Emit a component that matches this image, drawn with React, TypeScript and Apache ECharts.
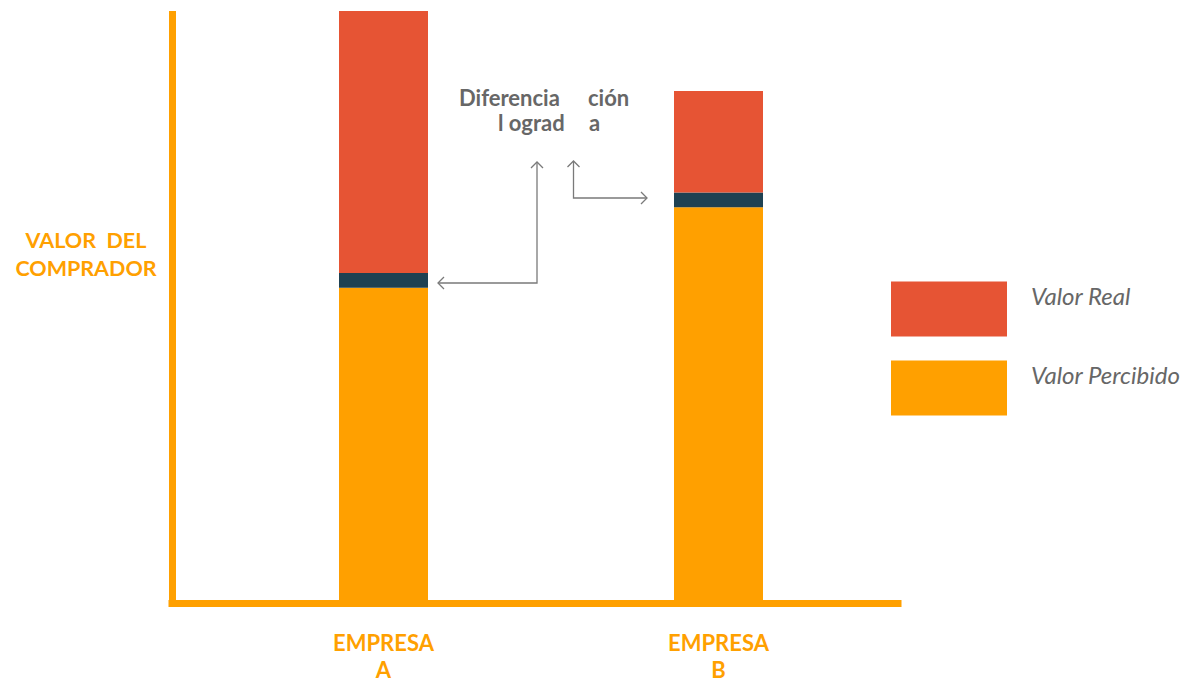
import React, { useEffect, useRef } from "react";
import * as echarts from "echarts";

const categories = ["EMPRESA\nA", "EMPRESA\nB"];
const valorPercibido = [53.0, 66.7];
const diferencia = [2.5, 2.5];
const valorReal = [44.5, 17.2];

const ORANGE = "#FFA000";
const RED = "#E65434";
const DARK = "#1E4152";
const GRAY = "#676767";
const ARROW = "#7a7a7a";

export default function App() {
  const ref = useRef<HTMLDivElement>(null);
  useEffect(() => {
    if (!ref.current) return;
    const chart = echarts.init(ref.current, null, { renderer: "svg" });
    const arrowStyle = { stroke: ARROW, lineWidth: 1.3, fill: "none" };
    const annot = (text: string, x: number, y: number) => ({
      type: "text",
      x,
      y,
      style: { text, fill: GRAY, font: "bold 22px Lato", textAlign: "left", textVerticalAlign: "middle" },
    });
    chart.setOption({
      animation: false,
      textStyle: { fontFamily: "Lato" },
      grid: [
        { left: 172, top: 11, width: 726, height: 592 },
        { left: 216, top: 11, width: 670, height: 592 },
      ],
      xAxis: [
        {
          gridIndex: 0,
          type: "value",
          min: 0,
          max: 1,
          z: 10,
          axisLine: { show: true, onZero: false, lineStyle: { color: ORANGE, width: 7, cap: "square" } },
          axisTick: { show: false },
          axisLabel: { show: false },
          splitLine: { show: false },
        },
        {
          gridIndex: 1,
          type: "category",
          data: categories,
          axisLine: { show: false },
          axisTick: { show: false },
          axisLabel: {
            color: ORANGE,
            fontFamily: "Lato",
            fontWeight: "bold",
            fontSize: 22,
            lineHeight: 27,
            margin: 29,
          },
        },
      ],
      yAxis: [
        {
          gridIndex: 0,
          type: "value",
          min: 0,
          max: 100,
          z: 10,
          axisLine: { show: true, lineStyle: { color: ORANGE, width: 7, cap: "butt" } },
          axisTick: { show: false },
          axisLabel: { show: false },
          splitLine: { show: false },
        },
        {
          gridIndex: 1,
          type: "value",
          min: 0,
          max: 100,
          axisLine: { show: false },
          axisTick: { show: false },
          axisLabel: { show: false },
          splitLine: { show: false },
        },
      ],
      legend: {
        orient: "vertical",
        left: 891,
        top: 281,
        padding: 0,
        itemWidth: 116,
        itemHeight: 55,
        itemGap: 23,
        icon: "rect",
        data: ["Valor Real", "Valor Percibido"],
        formatter: (name: string) => name + "\n ",
        textStyle: {
          color: GRAY,
          fontFamily: "Lato",
          fontStyle: "italic",
          fontSize: 24,
          lineHeight: 28,
          padding: [0, 0, 0, 19],
        },
      },
      series: [
        {
          name: "Valor Percibido",
          type: "bar",
          stack: "v",
          xAxisIndex: 1,
          yAxisIndex: 1,
          barWidth: 89,
          data: valorPercibido,
          itemStyle: { color: ORANGE },
        },
        {
          name: "Diferencia",
          type: "bar",
          stack: "v",
          xAxisIndex: 1,
          yAxisIndex: 1,
          barWidth: 89,
          data: diferencia,
          itemStyle: { color: DARK },
        },
        {
          name: "Valor Real",
          type: "bar",
          stack: "v",
          xAxisIndex: 1,
          yAxisIndex: 1,
          barWidth: 89,
          data: valorReal,
          itemStyle: { color: RED },
        },
      ],
      graphic: [
        {
          type: "text",
          x: 86,
          y: 254,
          style: {
            text: "VALOR  DEL\nCOMPRADOR",
            fill: ORANGE,
            font: "bold 21.5px Lato",
            lineHeight: 28,
            textAlign: "center",
            textVerticalAlign: "middle",
          },
        },
        annot("Diferencia", 459, 97),
        annot("ción", 588, 97),
        annot("l ograd", 498, 122),
        annot("a", 589, 122),
        { type: "polyline", shape: { points: [[537, 162], [537, 283], [438, 283]] }, style: arrowStyle },
        { type: "polyline", shape: { points: [[531, 168], [537, 162], [543, 168]] }, style: arrowStyle },
        { type: "polyline", shape: { points: [[444, 277], [438, 283], [444, 289]] }, style: arrowStyle },
        { type: "polyline", shape: { points: [[573.5, 161], [573.5, 198], [647, 198]] }, style: arrowStyle },
        { type: "polyline", shape: { points: [[567.5, 167], [573.5, 161], [579.5, 167]] }, style: arrowStyle },
        { type: "polyline", shape: { points: [[641, 192], [647, 198], [641, 204]] }, style: arrowStyle },
      ],
    });
    return () => chart.dispose();
  }, []);
  return (
    <div
      ref={ref}
      style={{ position: "fixed", left: 0, top: 0, width: 1188, height: 683, background: "#fff" }}
    />
  );
}
